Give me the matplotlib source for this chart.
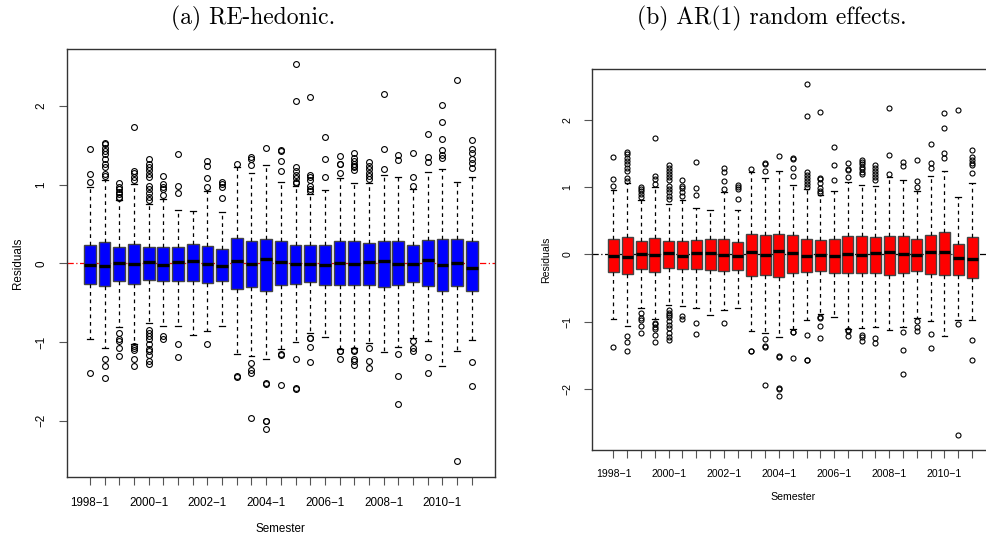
import matplotlib
matplotlib.use("Agg")
import matplotlib.pyplot as plt

# ---------------- data ----------------
semesters = [f"{y}\u2212{s}" for y in range(1998, 2012) for s in (1, 2)][:27]

# Panel (a) RE-hedonic
a_q1 = [-0.267, -0.288, -0.22, -0.263, -0.212, -0.22, -0.22, -0.225, -0.254, -0.22,
        -0.322, -0.305, -0.347, -0.275, -0.258, -0.237, -0.27, -0.28, -0.28, -0.27,
        -0.30, -0.28, -0.24, -0.292, -0.347, -0.288, -0.347]
a_med = [-0.025, -0.034, 0.008, -0.004, 0.013, -0.021, 0.017, 0.03, -0.013, -0.03,
         0.034, -0.013, 0.05, 0.02, -0.013, -0.008, -0.025, 0.0, -0.008, 0.017,
         0.03, -0.004, -0.004, 0.042, -0.021, 0.0, -0.06]
a_q3 = [0.229, 0.267, 0.203, 0.246, 0.203, 0.208, 0.203, 0.246, 0.225, 0.178,
        0.318, 0.288, 0.305, 0.284, 0.24, 0.229, 0.233, 0.28, 0.28, 0.254,
        0.28, 0.28, 0.24, 0.292, 0.31, 0.305, 0.28]
a_lo = [-0.966, -1.076, -0.81, -1.02, -0.754, -0.79, -0.80, -0.915, -0.856, -0.797,
        -1.15, -1.178, -1.22, -1.093, -0.996, -0.886, -0.936, -1.093, -1.076, -1.008,
        -1.127, -1.068, -0.953, -0.99, -1.30, -1.114, -0.98]
a_hi = [0.975, 1.055, 0.805, 1.004, 0.75, 0.82, 0.68, 0.665, 0.915, 0.653,
        1.22, 1.144, 1.245, 1.03, 0.987, 0.88, 0.936, 1.085, 1.025, 1.017,
        1.13, 1.10, 0.94, 1.157, 1.195, 1.034, 1.093]
a_out = [
    [1.03, 1.14, 1.45, -1.39],
    [1.11, 1.14, 1.23, 1.27, 1.33, 1.39, 1.43, 1.47, 1.52, 1.53, -1.216, -1.30, -1.458],
    [0.83, 0.85, 0.88, 0.91, 0.945, 0.975, 1.025, -0.88, -0.966, -0.987, -1.07, -1.18],
    [1.06, 1.10, 1.15, 1.17, 1.733, -1.05, -1.08, -1.10, -1.21, -1.305],
    [0.805, 0.85, 0.89, 0.95, 0.987, 1.10, 1.14, 1.19, 1.23, 1.27, 1.33,
     -0.85, -0.88, -0.92, -0.966, -1.03, -1.09, -1.12, -1.165, -1.24, -1.28],
    [0.87, 0.94, 0.975, 1.01, 1.11, -0.92, -0.966],
    [0.89, 0.98, 1.39, -1.02, -1.19],
    [],
    [0.975, 1.085, 1.24, 1.30, -1.02],
    [0.835, 0.975, 1.01, 1.03],
    [1.27, -1.43, -1.44],
    [1.245, 1.33, 1.356, -1.27, -1.35, -1.39, -1.966],
    [1.47, -1.525, -1.53, -2.0, -2.005, -2.11],
    [1.17, 1.30, 1.43, 1.44, -1.157, -1.165, -1.55],
    [1.017, 1.04, 1.09, 1.12, 1.17, 1.22, 2.06, 2.53, -1.21, -1.59, -1.595],
    [0.915, 0.95, 0.98, 1.06, 1.10, 1.127, 2.12, -0.953, -0.945, -1.06, -1.26],
    [1.10, 1.33, 1.61],
    [1.15, 1.26, 1.27, 1.36, -1.114, -1.12, -1.21],
    [1.19, 1.22, 1.24, 1.27, 1.30, 1.335, 1.40, -1.10, -1.11, -1.21, -1.24, -1.29],
    [1.068, 1.11, 1.15, 1.195, 1.24, 1.29, -1.08, -1.246, -1.326],
    [1.195, 1.46, 2.157],
    [1.32, 1.373, -1.148, -1.428, -1.784],
    [0.98, 1.097, 1.40, -0.987, -1.08, -1.12],
    [1.29, 1.35, 1.65, -1.186, -1.394],
    [1.335, 1.373, 1.44, 1.585, 1.80, 2.017],
    [2.33, -2.517],
    [1.21, 1.28, 1.33, 1.40, 1.46, 1.57, -1.258, -1.56],
]

# Panel (b) AR(1) random effects
b_q1 = [-0.266, -0.286, -0.217, -0.261, -0.202, -0.217, -0.217, -0.236, -0.246, -0.227,
        -0.315, -0.30, -0.335, -0.276, -0.266, -0.246, -0.271, -0.276, -0.276, -0.28,
        -0.30, -0.276, -0.241, -0.29, -0.30, -0.30, -0.35]
b_med = [-0.025, -0.035, 0.01, -0.005, 0.015, -0.025, 0.02, 0.025, -0.015, -0.025,
         0.035, -0.01, 0.05, 0.02, -0.02, -0.005, -0.02, 0.0, -0.01, 0.02,
         0.035, 0.0, -0.005, 0.044, 0.044, -0.054, -0.069]
b_q3 = [0.227, 0.267, 0.202, 0.247, 0.202, 0.202, 0.217, 0.232, 0.232, 0.183,
        0.311, 0.296, 0.306, 0.29, 0.237, 0.212, 0.232, 0.277, 0.277, 0.262,
        0.277, 0.277, 0.237, 0.296, 0.336, 0.163, 0.267]
b_lo = [-0.96, -1.064, -0.80, -0.955, -0.759, -0.768, -0.80, -0.906, -0.833, -0.798,
        -1.143, -1.172, -1.222, -1.113, -0.98, -0.887, -0.936, -1.113, -1.10, -1.074,
        -1.123, -1.074, -0.951, -0.995, -1.207, -0.975, -0.98]
b_hi = [0.963, 1.06, 0.81, 0.998, 0.75, 0.81, 0.686, 0.662, 0.923, 0.657,
        1.22, 1.14, 1.244, 1.03, 0.973, 0.88, 0.948, 1.077, 1.032, 1.022,
        1.146, 1.111, 0.948, 1.17, 1.244, 0.854, 1.067]
b_out = [
    [1.017, 1.13, 1.45, -1.384],
    [1.10, 1.136, 1.244, 1.284, 1.343, 1.39, 1.43, 1.49, 1.53, -1.207, -1.296, -1.443],
    [0.85, 0.90, 0.94, 0.97, 1.01, -0.877, -0.95, -0.975, -1.064, -1.172],
    [1.047, 1.12, 1.17, 1.733, -1.015, -1.04, -1.074, -1.113, -1.197, -1.296],
    [0.825, 0.874, 0.923, 0.973, 1.02, 1.106, 1.146, 1.195, 1.244, 1.294, 1.328,
     -0.828, -0.867, -0.90, -0.936, -0.985, -1.054, -1.10, -1.172, -1.232, -1.27],
    [0.874, 0.923, 0.988, 1.02, 1.111, -0.916, -0.965],
    [0.889, 0.988, 1.383, -1.02, -1.177],
    [],
    [0.973, 1.086, 1.22, 1.294, -1.015],
    [0.825, 0.973, 1.01, 1.037],
    [1.27, -1.433, -1.443],
    [1.244, 1.343, 1.363, -1.261, -1.36, -1.38, -1.95],
    [1.467, -1.517, -1.525, -1.99, -2.0, -2.10],
    [1.17, 1.294, 1.427, 1.437, -1.148, -1.156, -1.542],
    [1.007, 1.047, 1.086, 1.136, 1.18, 1.23, 2.06, 2.533, -1.192, -1.566, -1.574],
    [0.909, 0.948, 0.983, 1.07, 1.116, 1.14, 2.12, -0.926, -0.94, -1.06, -1.24],
    [1.106, 1.338, 1.605],
    [1.146, 1.26, 1.274, 1.363, -1.123, -1.138, -1.212],
    [1.195, 1.23, 1.27, 1.304, 1.343, 1.383, 1.412, -1.197, -1.232, -1.286],
    [1.111, 1.146, 1.195, 1.244, 1.284, 1.333, -1.236, -1.32],
    [1.195, 1.477, 2.178],
    [1.323, 1.383, -1.148, -1.419, -1.773],
    [0.998, 1.096, 1.402, -0.985, -1.084, -1.133],
    [1.294, 1.358, 1.65, -1.187, -1.394],
    [1.432, 1.516, 1.886, 2.10],
    [2.143, -1.04, -2.69],
    [1.205, 1.333, 1.368, 1.407, 1.452, 1.55, -1.266, -1.576],
]

titles = ["(a) RE-hedonic.", "(b) AR(1) random effects."]
xlabel = "Semester"
ylabel = "Residuals"
yticks = [-2, -1, 0, 1, 2]


def make_stats(q1, med, q3, lo, hi, out):
    return [dict(q1=q1[i], med=med[i], q3=q3[i], whislo=lo[i], whishi=hi[i],
                 fliers=out[i], mean=med[i]) for i in range(len(q1))]


def draw(ax, stats, color, zcolor, ylim, fs, ms):
    n = len(stats)
    pos = list(range(1, n + 1))
    ax.axhline(0, color=zcolor, lw=0.9, ls=(0, (5, 2, 1, 2)), zorder=0)
    ax.bxp(stats, positions=pos, widths=0.8, capwidths=0.4, patch_artist=True,
           showmeans=False,
           boxprops=dict(facecolor=color, edgecolor="#444444", lw=1.0),
           medianprops=dict(color="black", lw=2.4, solid_capstyle="butt"),
           whiskerprops=dict(color="black", lw=0.9, ls=(0, (3, 3))),
           capprops=dict(color="black", lw=0.9),
           flierprops=dict(marker="o", markerfacecolor="none",
                           markeredgecolor="black", markersize=ms, markeredgewidth=0.8))
    ax.set_xlim(-0.58, n + 1.58)
    ax.set_ylim(*ylim)
    ax.set_xticks(pos)
    ax.set_xticklabels([s if i % 4 == 0 else "" for i, s in enumerate(semesters)],
                       fontsize=fs, family="Liberation Sans")
    ax.set_yticks(yticks)
    ax.set_yticklabels([str(v).replace("-", "\u2212") for v in yticks],
                       fontsize=fs, family="Liberation Sans", rotation=90, va="center")
    ax.tick_params(direction="out", length=6, width=0.8, color="#555555")
    ax.tick_params(axis="x", pad=8)
    ax.tick_params(axis="y", pad=8)
    for s in ax.spines.values():
        s.set_color("#333333")
        s.set_linewidth(1.0)


fig = plt.figure(figsize=(9.87, 5.40), dpi=100)
ax1 = fig.add_axes([0.0676, 0.1161, 0.5015 - 0.0676, 0.9098 - 0.1161])
ax2 = fig.add_axes([0.5995, 0.1667, 1.0069 - 0.5995, 0.8722 - 0.1667])

draw(ax1, make_stats(a_q1, a_med, a_q3, a_lo, a_hi, a_out), "#0000FF", "red",
     (-2.72, 2.73), 8.4, 4.2)
draw(ax2, make_stats(b_q1, b_med, b_q3, b_lo, b_hi, b_out), "#FF0000", "black",
     (-2.91, 2.76), 7.6, 3.6)

ax1.set_xlabel(xlabel, fontsize=8.4, family="Liberation Sans", labelpad=10)
ax1.set_ylabel(ylabel, fontsize=8.4, family="Liberation Sans", labelpad=8)
ax2.set_xlabel(xlabel, fontsize=7.6, family="Liberation Sans", labelpad=9)
ax2.set_ylabel(ylabel, fontsize=7.6, family="Liberation Sans", labelpad=8)

fig.text(0.256, 0.966, titles[0], ha="center", va="center", fontsize=17, family="cmr10")
fig.text(0.782, 0.966, titles[1], ha="center", va="center", fontsize=17, family="cmr10")

fig.savefig("out.png", dpi=100)
